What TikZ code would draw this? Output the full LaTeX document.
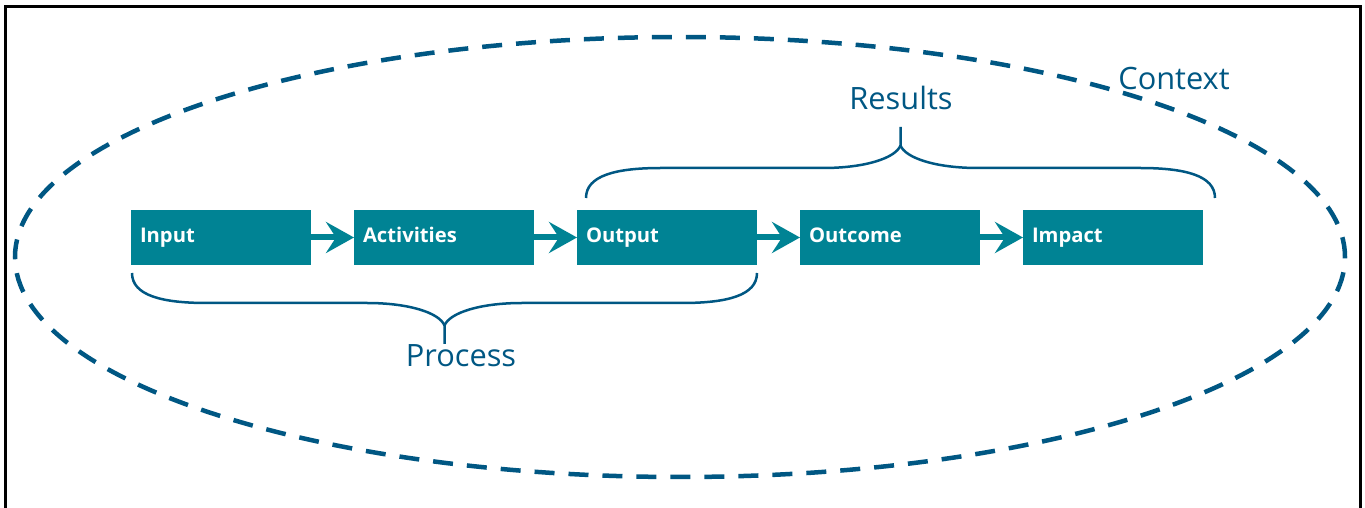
\documentclass[tikz,border=0pt]{standalone}
\usepackage{fontspec}
\setmainfont{Open Sans}
\usetikzlibrary{positioning,arrows.meta}
\definecolor{bleuvert}{RGB}{0,131,148}
\definecolor{bleufonce}{RGB}{0,87,131}
\newcommand{\lb}{3.6}
\newcommand{\hb}{1.1}
\tikzstyle{cadre}=[line width=0.06cm]
\tikzstyle{contexte}=[bleufonce, line width=0.09cm, dash pattern=on 0.4cm off 0.28cm]
\tikzstyle{boite}=[fill=bleuvert, text=white, font=\bfseries\fontsize{11.5}{14}\selectfont,
  minimum height=\hb cm, text width=3.24cm, text height=0.75em, text depth=0.22em,
  inner xsep=0.18cm, inner ysep=0, outer sep=0, align=left]
\tikzstyle{fleche}=[bleuvert, line width=0.12cm, -{Stealth[length=0.56cm,width=0.62cm,inset=0.2cm]}]
\tikzstyle{accol}=[bleufonce, line width=0.05cm]
\tikzstyle{etiquette}=[bleufonce, font=\fontsize{17.5}{20}\selectfont]
% accolade : #1 = left end, #2 = width, #3 = 1 (down) or -1 (up)
\newcommand{\accolade}[3]{
  \begin{scope}[shift={#1},yscale=#3]
    \draw[accol] (0,0) .. controls (0,-0.45) and (0.6,-0.6) .. (1.5,-0.6)
      -- (#2/2-1.55,-0.6) .. controls (#2/2-0.7,-0.6) and (#2/2-0.1,-0.8) .. (#2/2,-1.05)
      -- (#2/2,-1.42);
    \draw[accol] (#2,0) .. controls (#2,-0.45) and (#2-0.6,-0.6) .. (#2-1.5,-0.6)
      -- (#2/2+1.55,-0.6) .. controls (#2/2+0.7,-0.6) and (#2/2+0.1,-0.8) .. (#2/2,-1.05);
  \end{scope}
}
\begin{document}
\begin{tikzpicture}
\useasboundingbox (0,0) rectangle (27.3,10.16);
\draw[cadre] (0.12,0) |- (27.2,10.02) -- (27.2,0);

% context
\draw[contexte] (13.6,5.02) ellipse (13.3 and 4.4);
\node[etiquette] (context) at (23.48,8.58) {Context};

% chain
\node[boite] (input) at (4.42,5.41) {Input};
\node[boite, right=0.86cm of input] (activities) {Activities};
\node[boite, right=0.86cm of activities] (output) {Output};
\node[boite, right=0.86cm of output] (outcome) {Outcome};
\node[boite, right=0.86cm of outcome] (impact) {Impact};

\foreach \a/\b in {input/activities,activities/output,output/outcome,outcome/impact}
\draw[fleche] (\a) -- (\b);

% braces
\accolade{(2.64,4.7)}{12.5}{1}
\node[etiquette] (process) at (9.22,3.04) {Process};
\accolade{(11.72,6.2)}{12.58}{-1}
\node[etiquette] (results) at (18.02,8.2) {Results};
\end{tikzpicture}
\end{document}
